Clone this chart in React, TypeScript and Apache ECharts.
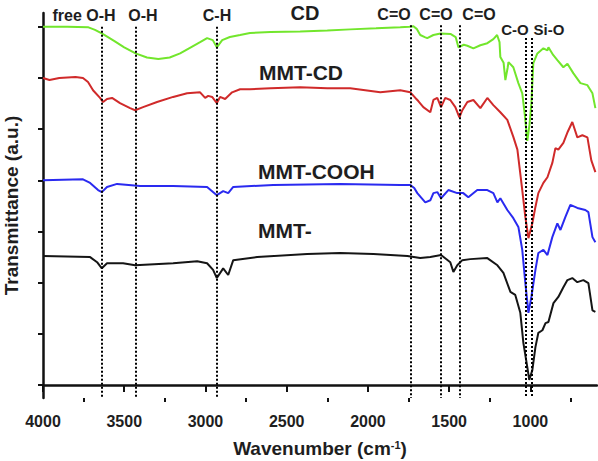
import React, { useEffect, useRef } from 'react';
import * as echarts from 'echarts';

const FONT = '"Liberation Sans", Arial, Helvetica, sans-serif';

// FTIR spectra: [wavenumber (cm-1), transmittance (a.u., offset per sample)]
const cdSpectrum: [number, number][] = [
  [4000, 7.0], [3850, 7.0], [3720, 6.99], [3680, 6.94], [3638, 6.87], [3560, 6.72], [3500, 6.6],
  [3430, 6.48], [3360, 6.4], [3290, 6.37], [3220, 6.4], [3156, 6.48], [3090, 6.6], [3033, 6.7],
  [2990, 6.78], [2955, 6.74], [2930, 6.6], [2897, 6.74], [2850, 6.8], [2787, 6.84], [2726, 6.88],
  [2600, 6.9], [2417, 6.91], [2250, 6.93], [2109, 6.95], [1950, 6.97], [1801, 6.99], [1745, 7.0],
  [1720, 7.01], [1700, 6.96], [1678, 6.84], [1650, 6.8], [1635, 6.78], [1597, 6.84], [1553, 6.87],
  [1492, 6.86], [1460, 6.8], [1443, 6.6], [1410, 6.65], [1388, 6.63], [1351, 6.58], [1308, 6.64],
  [1265, 6.68], [1228, 6.76], [1205, 6.84], [1190, 6.7], [1185, 6.41], [1165, 6.3], [1154, 5.96],
  [1140, 6.2], [1135, 6.31], [1105, 6.21], [1074, 5.9], [1050, 5.7], [1035, 5.3], [1019, 4.77],
  [1005, 5.1], [994, 5.5], [982, 6.29], [957, 6.48], [920, 6.58], [895, 6.54], [889, 6.6],
  [860, 6.45], [834, 6.35], [797, 6.21], [772, 6.28], [735, 6.09], [692, 5.9], [649, 5.86],
  [618, 5.7], [600, 5.41],
];

const mmtCdSpectrum: [number, number][] = [
  [4000, 6.0], [3960, 5.96], [3900, 6.0], [3800, 6.02], [3754, 6.0], [3723, 5.92], [3692, 5.76],
  [3649, 5.61], [3630, 5.53], [3606, 5.59], [3575, 5.61], [3526, 5.51], [3464, 5.41], [3433, 5.37],
  [3384, 5.43], [3298, 5.53], [3199, 5.63], [3113, 5.7], [3033, 5.72], [3002, 5.61], [2983, 5.65],
  [2959, 5.63], [2930, 5.51], [2910, 5.63], [2879, 5.59], [2836, 5.72], [2787, 5.78], [2726, 5.78],
  [2600, 5.8], [2417, 5.82], [2250, 5.8], [2109, 5.8], [1924, 5.72], [1801, 5.76], [1739, 5.72],
  [1708, 5.61], [1690, 5.55], [1659, 5.43], [1616, 5.33], [1597, 5.57], [1573, 5.61], [1550, 5.43],
  [1524, 5.61], [1493, 5.57], [1462, 5.43], [1437, 5.23], [1419, 5.37], [1388, 5.53], [1351, 5.57],
  [1308, 5.41], [1265, 5.61], [1228, 5.47], [1185, 5.33], [1142, 5.18], [1105, 4.85], [1080, 4.6],
  [1050, 3.81], [1031, 3.28], [1012, 2.87], [988, 3.16], [969, 3.48], [951, 3.75], [920, 3.95],
  [895, 4.06], [865, 4.34], [846, 4.63], [828, 4.6], [797, 4.73], [770, 4.95], [742, 5.14],
  [711, 4.84], [680, 4.88], [649, 4.84], [625, 4.39], [600, 4.16],
];

const mmtCoohSpectrum: [number, number][] = [
  [4000, 4.0], [3754, 4.02], [3710, 3.95], [3661, 3.81], [3638, 3.77], [3606, 3.87], [3544, 3.93],
  [3402, 3.89], [3199, 3.89], [2990, 3.87], [2930, 3.71], [2891, 3.79], [2860, 3.75], [2829, 3.87],
  [2583, 3.91], [2171, 3.93], [1801, 3.91], [1739, 3.91], [1715, 3.85], [1696, 3.75], [1647, 3.57],
  [1616, 3.61], [1597, 3.75], [1573, 3.77], [1550, 3.65], [1505, 3.81], [1450, 3.75], [1413, 3.75],
  [1382, 3.67], [1327, 3.81], [1265, 3.81], [1228, 3.75], [1203, 3.57], [1185, 3.65], [1142, 3.42],
  [1105, 3.26], [1074, 3.09], [1050, 2.64], [1031, 1.99], [1012, 1.41], [994, 1.72], [969, 2.25],
  [951, 2.58], [920, 2.64], [895, 2.54], [865, 2.89], [834, 3.16], [815, 3.03], [785, 3.28],
  [754, 3.52], [711, 3.46], [662, 3.42], [643, 3.38], [618, 2.89], [600, 2.79],
];

const mmtSpectrum: [number, number][] = [
  [4000, 2.52], [3710, 2.5], [3667, 2.4], [3638, 2.28], [3606, 2.38], [3507, 2.38], [3433, 2.34],
  [3199, 2.38], [3051, 2.42], [2990, 2.38], [2953, 2.25], [2930, 2.09], [2891, 2.28], [2860, 2.15],
  [2829, 2.44], [2682, 2.5], [2374, 2.56], [2171, 2.58], [1966, 2.56], [1757, 2.52], [1678, 2.48],
  [1616, 2.5], [1550, 2.54], [1493, 2.4], [1474, 2.21], [1450, 2.34], [1419, 2.44], [1370, 2.46],
  [1265, 2.48], [1203, 2.34], [1166, 2.19], [1123, 1.82], [1093, 1.76], [1062, 1.41], [1043, 0.82],
  [1019, 0.35], [1007, 0.1], [988, 0.29], [969, 0.74], [951, 1.02], [926, 1.07], [907, 1.21],
  [889, 1.23], [858, 1.6], [828, 1.72], [797, 1.91], [772, 2.05], [742, 2.09], [711, 2.01],
  [674, 2.05], [643, 1.99], [618, 1.46], [600, 1.43],
];

// Band assignments: [wavenumber, top of the guide line]
const bandGuides: [number, number][] = [
  [3638, 7.0], [3430, 7.0], [2930, 7.0], [1739, 7.03], [1550, 7.03], [1437, 7.03], [1030, 6.78], [993, 6.78],
];

const majorTicks = [4000, 3500, 3000, 2500, 2000, 1500, 1000];
const minorTicks = [3750, 3250, 2750, 2250, 1750, 1250, 750];
const yTicks = [0, 1, 2, 3, 4, 5, 6, 7];

const X_MIN = 590;
const X_MAX = 4000;
const Y_MIN = -0.254;
const Y_MAX = 7.27;

const lineSeries = (name: string, data: [number, number][], color: string, z: number) => ({
  name,
  type: 'line',
  data,
  showSymbol: false,
  symbol: 'none',
  z,
  lineStyle: { color, width: 2 },
  itemStyle: { color },
});

const label = (text: string, x: number, y: number, size: number, align = 'center') => ({
  type: 'text',
  x,
  y,
  z: 100,
  style: {
    text,
    fontFamily: FONT,
    fontWeight: 'bold',
    fontSize: size,
    fill: '#1e1e1e',
    align,
    verticalAlign: 'middle',
  },
});

export default function App() {
  const ref = useRef<HTMLDivElement>(null);

  useEffect(() => {
    if (!ref.current) return;
    const chart = echarts.init(ref.current, null, { renderer: 'svg' });
    const axisColor = '#111';
    chart.setOption({
      animation: false,
      backgroundColor: '#fff',
      grid: { left: 43, right: 1, top: 13, bottom: 63, containLabel: false, outerBoundsMode: 'none' },
      xAxis: [
        {
          type: 'value',
          inverse: true,
          min: X_MIN,
          max: X_MAX,
          name: '{t|Wavenumber (cm}{s|-1}{t|)}',
          nameLocation: 'middle',
          nameGap: 41,
          nameTextStyle: {
            rich: {
              t: { fontFamily: FONT, fontWeight: 'bold', fontSize: 19, color: '#1e1e1e' },
              s: { fontFamily: FONT, fontWeight: 'bold', fontSize: 11, color: '#1e1e1e', verticalAlign: 'top' },
            },
          },
          axisLine: { show: true, lineStyle: { color: axisColor, width: 2.5 } },
          axisTick: { show: true, customValues: majorTicks, length: 7, lineStyle: { color: axisColor, width: 2 } },
          axisLabel: {
            customValues: majorTicks,
            formatter: (v: number) => String(v),
            margin: 15,
            fontFamily: FONT,
            fontWeight: 'bold',
            fontSize: 16,
            color: '#1e1e1e',
          },
          splitLine: { show: false },
        },
        {
          type: 'value',
          inverse: true,
          min: X_MIN,
          max: X_MAX,
          position: 'bottom',
          axisLine: { show: false },
          axisTick: { show: true, customValues: minorTicks, length: 4, lineStyle: { color: axisColor, width: 2 } },
          axisLabel: { show: false },
          splitLine: { show: false },
        },
      ],
      yAxis: {
        type: 'value',
        min: Y_MIN,
        max: Y_MAX,
        name: 'Transmittance (a.u.)',
        nameLocation: 'middle',
        nameGap: 22,
        nameTextStyle: { fontFamily: FONT, fontWeight: 'bold', fontSize: 19, color: '#1e1e1e' },
        axisLine: { show: true, lineStyle: { color: axisColor, width: 2.5 } },
        axisTick: { show: true, customValues: yTicks, length: 5, lineStyle: { color: axisColor, width: 2 } },
        axisLabel: { show: false },
        splitLine: { show: false },
      },
      series: [
        lineSeries('CD', cdSpectrum, '#72e62c', 2),
        lineSeries('MMT-CD', mmtCdSpectrum, '#d02a2a', 2),
        lineSeries('MMT-COOH', mmtCoohSpectrum, '#2a2af0', 2),
        lineSeries('MMT-', mmtSpectrum, '#151515', 2),
        {
          name: 'bands',
          type: 'line',
          data: [],
          z: 5,
          markLine: {
            silent: true,
            symbol: 'none',
            label: { show: false },
            lineStyle: { color: '#000', type: [2, 2], width: 2 },
            data: bandGuides.map(([wn, top]) => [
              { coord: [wn, top] },
              { coord: [wn, Y_MIN] },
            ]),
          },
        },
      ],
      graphic: [
        label('free O-H', 84, 15, 16),
        label('O-H', 143, 15, 16),
        label('C-H', 217, 15, 16),
        label('CD', 305, 13, 20),
        label('C=O', 394, 14, 16),
        label('C=O', 436, 14, 16),
        label('C=O', 479, 14, 16),
        label('C-O', 515, 29, 15),
        label('Si-O', 549, 29, 15),
        label('MMT-CD', 259, 72, 21, 'left'),
        label('MMT-COOH', 258, 171, 21, 'left'),
        label('MMT-', 258, 230, 21, 'left'),
      ],
    });
    return () => chart.dispose();
  }, []);

  return (
    <div
      ref={ref}
      style={{ position: 'fixed', left: 0, top: 0, width: 598, height: 461 }}
    />
  );
}
